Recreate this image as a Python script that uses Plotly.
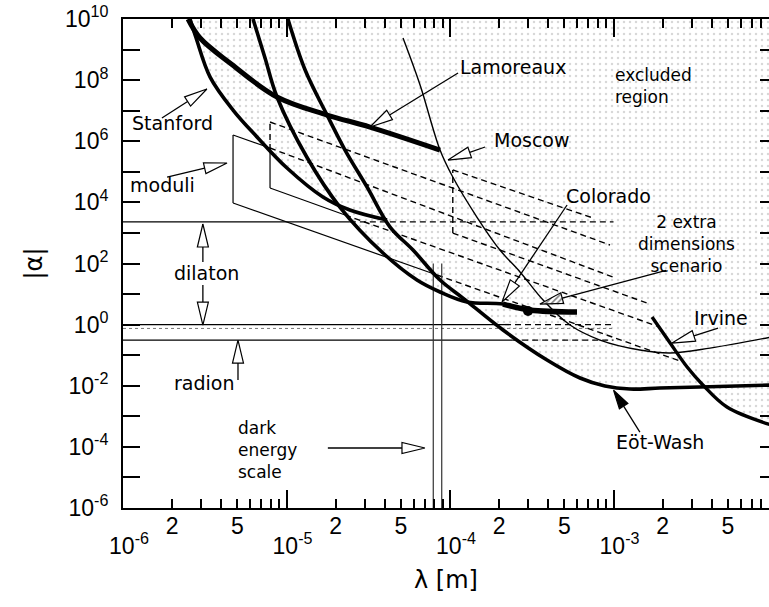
import numpy as np
import plotly.graph_objects as go

# ------------------------------------------------------------------
# Limits on Yukawa-type deviations from Newtonian gravity
# |alpha| versus range lambda [m]
# ------------------------------------------------------------------

# --- experimental limit curves (lambda in m, |alpha|) ---
lamoreaux_lam = [2.50e-6, 2.96e-6, 4.51e-6, 8.75e-6, 1.77e-5, 3.24e-5, 8.69e-5]
lamoreaux_alpha = [1e10, 2.39e9, 3.63e8, 2.80e7, 7.22e6, 2.92e6, 5.17e5]

stanford_lam = [2.57e-6, 2.80e-6, 3.41e-6, 4.71e-6, 6.60e-6, 1.007e-5, 1.67e-5, 2.44e-5, 4.12e-5]
stanford_alpha = [1e10, 2.39e9, 1.26e8, 1.05e7, 1.38e6, 1.33e5, 1.50e4, 5.62e3, 2.65e3]

colorado_lam = [6.24e-6, 7.39e-6, 8.75e-6, 1.33e-5, 2.12e-5, 3.89e-5, 6.28e-5, 8.69e-5,
                1.27e-4, 2.11e-4, 3.08e-4, 5.98e-4]
colorado_alpha = [1e10, 5.3e8, 2.80e7, 3.05e5, 7.05e3, 2.20e2, 28.8, 11.7, 5.50, 4.72, 3.0, 2.58]
colorado_point = (3.0e-4, 2.8)

eotwash_lam = [1.02e-5, 1.30e-5, 1.77e-5, 2.28e-5, 3.11e-5, 4.30e-5, 5.94e-5, 8.69e-5, 1.20e-4,
               2.11e-4, 3.92e-4, 6.24e-4, 8.87e-4, 1.26e-3, 1.92e-3, 3.38e-3, 9.2e-3]
eotwash_alpha = [1e10, 2.14e8, 7.22e6, 5.17e5, 3.18e4, 1.56e3, 2.76e2, 28.8, 7.41,
                 0.665, 0.0695, 0.0179, 0.0098, 0.0078, 0.0084, 0.0091, 0.0106]

moscow_lam = [5.16e-5, 6.56e-5, 8.69e-5, 1.04e-4, 1.46e-4, 2.02e-4, 2.68e-4, 3.71e-4, 5.42e-4,
              8.27e-4, 1.45e-3, 2.22e-3, 3.89e-3, 9.2e-3]
moscow_alpha = [2.39e9, 6.92e7, 5.17e5, 6.76e4, 3.32e3, 2.76e2, 53, 6.38, 0.97,
                0.313, 0.148, 0.118, 0.171, 0.393]

irvine_lam = [1.72e-3, 2.22e-3, 2.82e-3, 3.52e-3, 4.94e-3, 9.2e-3]
irvine_alpha = [1.77, 0.25, 0.041, 0.0106, 0.00201, 5.2e-4]

# --- theoretical expectations ---
# horizontal levels (dilaton band edges, radion); solid where allowed, dashed where excluded
level_alpha = [2.3e3, 1.0, 0.31]
level_solid_end = [2.44e-5, 2.17e-4, 2.4e-4]
level_dash_end = [1.0e-3, 1.0e-3, 1.0e-3]
dotted_level_alpha = 0.75

# alpha ~ lambda^-2 lines (moduli, two extra dimensions)
slope_start_lam = [4.71e-6, 4.71e-6, 7.93e-6, 7.93e-6, 1.04e-4, 1.04e-4]
slope_start_alpha = [1.60e6, 9.53e3, 4.26e6, 2.95e4, 1.15e5, 9.9e2]
slope_break_lam = [7.93e-6, 8.32e-5, 7.93e-6, 2.28e-5, 1.04e-4, 1.04e-4]
slope_break_alpha = [6.01e5, 42, 4.26e6, 3.86e3, 1.15e5, 9.9e2]
slope_end_lam = [9.93e-4, 2.66e-3, 9.52e-4, 1.92e-3, 7.5e-4, 1.60e-3]
slope_end_alpha = [36, 0.0597, 4.03e2, 0.83, 3.08e3, 5.09]

# vertical edges of the prediction regions: lambda, alpha bottom, alpha break, alpha top
edge_lam = [4.71e-6, 7.93e-6, 1.04e-4]
edge_alpha_low = [9.53e3, 2.95e4, 9.9e2]
edge_alpha_break = [1.60e6, 5.17e5, 9.9e2]   # solid below, dashed above
edge_alpha_high = [1.60e6, 4.26e6, 1.15e5]

# dark-energy length scale
dark_energy_lam = [7.9e-5, 8.9e-5]
dark_energy_alpha = [1e-6, 1.0e2]

# --- axes geometry ---
W, H = 769, 607
ML, MR, MT, MB = 123, 0, 19, 99
X_RANGE = [-6.0, -2.049]
Y_RANGE = [-6.0, 10.0]
PX_DEC_X = (W - ML - MR) / (X_RANGE[1] - X_RANGE[0])
PX_DEC_Y = (H - MT - MB) / (Y_RANGE[1] - Y_RANGE[0])

LABEL_FONT = dict(family="DejaVu Sans", size=19, color="black")
STACK_FONT = dict(family="DejaVu Sans", size=17, color="black")
TICK_FONT = dict(family="Liberation Sans", size=23, color="black")
DASH = "6px,4px"

fig = go.Figure()


def add_line(x, y, width, dash="solid", color="black", shape="spline"):
    fig.add_trace(go.Scatter(x=list(x), y=list(y), mode="lines",
                             line=dict(color=color, width=width, dash=dash, shape=shape),
                             hoverinfo="skip", showlegend=False))


# --- excluded region: above the lower envelope of the limit curves ---
def log_interp(grid, xs, ys):
    return np.interp(np.log10(grid), np.log10(xs), np.log10(ys), left=np.inf, right=np.inf)


limit_curves = [(lamoreaux_lam, lamoreaux_alpha), (stanford_lam, stanford_alpha),
                (colorado_lam, colorado_alpha), (eotwash_lam, eotwash_alpha),
                (moscow_lam, moscow_alpha), (irvine_lam, irvine_alpha)]
grid = np.logspace(np.log10(stanford_lam[0]), np.log10(eotwash_lam[-1]), 700)
envelope = np.min([log_interp(grid, lx, ly) for lx, ly in limit_curves], axis=0)
fig.add_trace(go.Scatter(
    x=list(grid) + [eotwash_lam[-1], grid[0]],
    y=list(10 ** envelope) + [1e10, 1e10],
    mode="none", fill="toself", fillcolor="rgba(0,0,0,0)",
    fillpattern=dict(shape=".", fgcolor="#b0b0b0", bgcolor="rgba(255,255,255,0)",
                     size=6, solidity=0.14),
    hoverinfo="skip", showlegend=False))

# --- horizontal levels ---
for a, s_end, d_end in zip(level_alpha, level_solid_end, level_dash_end):
    add_line([1e-6, s_end], [a, a], 1.2, shape="linear")
    add_line([s_end, d_end], [a, a], 1.4, dash=DASH, shape="linear")
add_line([1e-6, 1.0e-3], [dotted_level_alpha] * 2, 1.0, dash="dot", color="#777777", shape="linear")

# --- lambda^-2 lines ---
for i in range(len(slope_start_lam)):
    s = (slope_start_lam[i], slope_start_alpha[i])
    b = (slope_break_lam[i], slope_break_alpha[i])
    e = (slope_end_lam[i], slope_end_alpha[i])
    if b != s:
        add_line([s[0], b[0]], [s[1], b[1]], 1.2, shape="linear")
    add_line([b[0], e[0]], [b[1], e[1]], 1.4, dash=DASH, shape="linear")

for lam, lo, br, hi in zip(edge_lam, edge_alpha_low, edge_alpha_break, edge_alpha_high):
    if br > lo:
        add_line([lam, lam], [lo, br], 1.2, shape="linear")
    if hi > br:
        add_line([lam, lam], [br, hi], 1.4, dash=DASH, shape="linear")

# --- dark-energy scale ---
for lam in dark_energy_lam:
    add_line([lam, lam], dark_energy_alpha, 1.2, color="#333333", shape="linear")

# --- limit curves ---
add_line(moscow_lam, moscow_alpha, 1.4)
add_line(lamoreaux_lam, lamoreaux_alpha, 5.0)
add_line(stanford_lam, stanford_alpha, 3.6)
add_line(colorado_lam, colorado_alpha, 3.6)
add_line(colorado_lam[-3:], colorado_alpha[-3:], 5.5)
add_line(eotwash_lam, eotwash_alpha, 3.6)
add_line(irvine_lam, irvine_alpha, 3.4)
fig.add_trace(go.Scatter(x=[colorado_point[0]], y=[colorado_point[1]], mode="markers",
                         marker=dict(color="black", size=10, symbol="circle"),
                         hoverinfo="skip", showlegend=False))


# --- arrows ---
def arrow_head(tail, tip, length, width):
    t = np.array([np.log10(tail[0]) * PX_DEC_X, np.log10(tail[1]) * PX_DEC_Y])
    h = np.array([np.log10(tip[0]) * PX_DEC_X, np.log10(tip[1]) * PX_DEC_Y])
    d = (h - t) / np.hypot(*(h - t))
    n = np.array([-d[1], d[0]])
    base = h - d * length
    pts = [h, base + n * width / 2, base - n * width / 2, h]
    xs = [10 ** (p[0] / PX_DEC_X) for p in pts]
    ys = [10 ** (p[1] / PX_DEC_Y) for p in pts]
    return xs, ys, (10 ** (base[0] / PX_DEC_X), 10 ** (base[1] / PX_DEC_Y))


arrow_tail = [(1.73e-6, 5.75e6), (1.86e-6, 6.76e4), (1.12e-4, 1.71e8), (1.64e-4, 6.48e5),
              (5.20e-4, 8.20e3), (4.36e-3, 0.775), (1.45e-3, 3.06e-4), (2.1e-3, 60),
              (3.08e-6, 112), (3.08e-6, 19.8), (5.05e-6, 0.0154), (1.79e-5, 9.2e-5)]
arrow_tip = [(3.26e-6, 5.12e7), (4.33e-6, 1.94e5), (3.24e-5, 2.92e6), (9.72e-5, 2.43e5),
             (2.08e-4, 5.50), (2.28e-3, 0.25), (1.0e-3, 0.0072), (3.55e-4, 4.72),
             (3.08e-6, 1.96e3), (3.08e-6, 0.97), (5.05e-6, 0.313), (7.03e-5, 9.2e-5)]
arrow_style = ["open", "open", "open", "open", "open", "open", "solid", "hatched",
               "open", "open", "open", "open"]

for tail, tip, style in zip(arrow_tail, arrow_tip, arrow_style):
    length, width = (19, 10) if style == "solid" else (23, 11)
    hx, hy, base = arrow_head(tail, tip, length, width)
    add_line([tail[0], base[0]], [tail[1], base[1]], 1.3, shape="linear")
    head = dict(x=hx, y=hy, mode="lines", fill="toself",
                line=dict(color="black", width=1.2), hoverinfo="skip", showlegend=False)
    if style == "open":
        head["fillcolor"] = "white"
    elif style == "solid":
        head["fillcolor"] = "black"
    else:
        head["fillcolor"] = "white"
        head["fillpattern"] = dict(shape="/", fgcolor="black", bgcolor="white", size=4, solidity=0.4)
    fig.add_trace(go.Scatter(**head))

# --- text labels ---
label_text = ["Lamoreaux", "Stanford", "Moscow", "moduli", "Colorado",
              "dilaton", "Irvine", "radion", "Eöt-Wash"]
label_lam = [1.12e-4, 1.10e-6, 1.81e-4, 1.07e-6, 4.98e-4, 3.26e-6, 3.02e-3, 3.11e-6, 1.0e-3]
label_alpha = [2.69e8, 3.95e6, 1.10e6, 3.70e4, 1.61e4, 48.8, 1.64, 0.0123, 1.44e-4]
label_anchor = ["left", "left", "left", "left", "left", "center", "left", "center", "left"]

# multi-line labels (anchored at the middle of the text block)
stack_text = ["excluded<br>region", "2 extra<br>dimensions<br>scenario", "dark<br>energy<br>scale"]
stack_lam = [1.0e-3, 2.80e-3, 4.98e-6]
stack_alpha = [6.6e7, 4.34e2, 7.9e-5]
stack_anchor = ["left", "center", "left"]

annotations = []
for txt, lam, a, anc in zip(label_text, label_lam, label_alpha, label_anchor):
    annotations.append(dict(x=np.log10(lam), y=np.log10(a), xref="x", yref="y", text=txt,
                            showarrow=False, xanchor=anc, yanchor="middle", font=LABEL_FONT))
for txt, lam, a, anc in zip(stack_text, stack_lam, stack_alpha, stack_anchor):
    annotations.append(dict(x=np.log10(lam), y=np.log10(a), xref="x", yref="y", text=txt,
                            showarrow=False, xanchor=anc, yanchor="middle", align=anc,
                            font=STACK_FONT, borderpad=0))

# --- axes ---
x_decades = [1e-6, 1e-5, 1e-4, 1e-3]
x_decade_text = ["10<sup>-6</sup>", "10<sup>-5</sup>", "10<sup>-4</sup>", "10<sup>-3</sup>"]
x_minor = [m * d for d in x_decades for m in range(2, 10)]
x_sub_vals = [m * d for d in x_decades for m in (2, 5)]
x_sub_text = [str(m) for d in x_decades for m in (2, 5)]
y_even = [10.0 ** k for k in range(-6, 11, 2)]
y_even_text = [f"10<sup>{k}</sup>" for k in range(-6, 11, 2)]
y_odd = [10.0 ** k for k in range(-5, 10, 2)]
y_all = [10.0 ** k for k in range(-6, 11)]

# empty traces so the overlay axes are drawn
fig.add_trace(go.Scatter(x=[], y=[], xaxis="x2", yaxis="y", showlegend=False))
fig.add_trace(go.Scatter(x=[], y=[], xaxis="x", yaxis="y2", showlegend=False))

fig.update_layout(
    width=W, height=H, margin=dict(l=ML, r=MR, t=MT, b=MB),
    plot_bgcolor="white", paper_bgcolor="white", showlegend=False,
    annotations=annotations,
    xaxis=dict(type="log", range=X_RANGE, showgrid=False, zeroline=False,
               showline=True, linecolor="black", linewidth=2, mirror="ticks",
               ticks="inside", ticklen=18, tickwidth=2, tickcolor="black",
               tickvals=x_decades, ticktext=x_decade_text, tickfont=TICK_FONT,
               ticklabelstandoff=16, ticklabelshift=6,
               minor=dict(tickvals=x_minor, ticks="inside", ticklen=9, tickwidth=1.5,
                          tickcolor="black", showgrid=False),
               title=dict(text="λ [m]", font=dict(family="DejaVu Sans", size=24, color="black"),
                          standoff=14)),
    xaxis2=dict(type="log", range=X_RANGE, overlaying="x", anchor="y", side="bottom",
                showgrid=False, zeroline=False, showline=False, ticks="",
                tickvals=x_sub_vals, ticktext=x_sub_text, tickfont=TICK_FONT,
                ticklabelstandoff=2),
    yaxis=dict(type="log", range=Y_RANGE, showgrid=False, zeroline=False,
               showline=True, linecolor="black", linewidth=2, mirror=False,
               ticks="inside", ticklen=17, tickwidth=2, tickcolor="black",
               tickvals=y_even, ticktext=y_even_text, tickfont=TICK_FONT,
               ticklabelstandoff=8,
               minor=dict(tickvals=y_odd, ticks="inside", ticklen=17, tickwidth=2,
                          tickcolor="black", showgrid=False),
               title=dict(text="|α|", font=dict(family="DejaVu Sans", size=24, color="black"),
                          standoff=16)),
    yaxis2=dict(type="log", range=Y_RANGE, overlaying="y", anchor="x", side="right",
                showgrid=False, zeroline=False, showline=False, ticks="inside",
                ticklen=9, tickwidth=2, tickcolor="black", tickvals=y_all,
                showticklabels=False),
)

fig.write_html("out.html")
